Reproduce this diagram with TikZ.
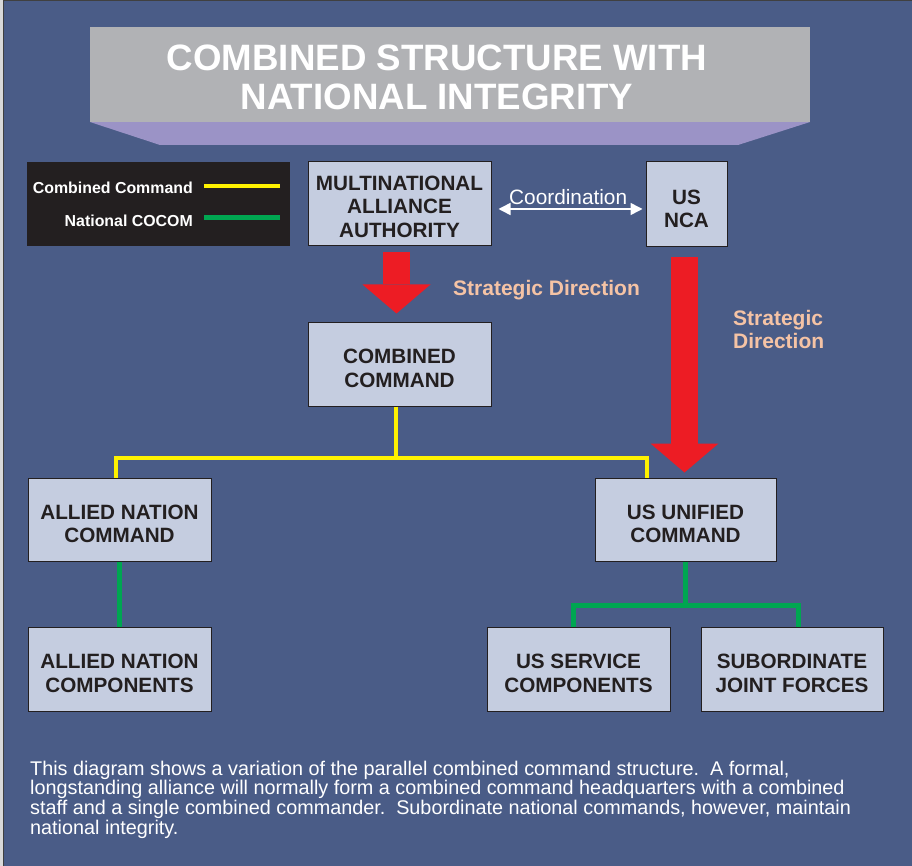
\documentclass[tikz,border=0pt]{standalone}
\usepackage{fontspec}
\setmainfont{Liberation Sans}
\usetikzlibrary{arrows.meta}

\definecolor{bgblue}{RGB}{74,92,135}
\definecolor{boxfill}{RGB}{197,205,224}
\definecolor{boxtext}{RGB}{35,31,32}
\definecolor{bannergray}{RGB}{177,178,181}
\definecolor{bannerlilac}{RGB}{155,147,198}
\definecolor{cmdyellow}{RGB}{255,242,0}
\definecolor{cocomgreen}{RGB}{0,166,81}
\definecolor{dirred}{RGB}{237,28,36}
\definecolor{peach}{RGB}{245,195,165}

\begin{document}
\begin{tikzpicture}[x=1pt, y=-1pt,
    unitbox/.style={draw=boxtext, line width=1pt, fill=boxfill, text=boxtext, inner sep=0pt, align=center,
        text height=46.3pt, font=\fontsize{20.7}{23.5}\selectfont\bfseries, minimum width=183pt, minimum height=84pt},
    combined/.style={draw=cmdyellow, line width=4pt},
    national/.style={draw=cocomgreen, line width=5pt},
    bigarrow/.style={draw=dirred, line width=27pt, -{Triangle[width=68pt, length=29pt, line width=0pt]}},
    direction/.style={text=peach, inner sep=0pt, align=left, font=\fontsize{21}{23}\selectfont\bfseries},
    legendtext/.style={text=white, inner sep=0pt, font=\fontsize{15.9}{18}\selectfont\bfseries}]
    \useasboundingbox (0,0) rectangle (912,866);

    %   Background and frame edges
    \fill[bgblue] (0,0) rectangle (912,866);
    \fill[gray!30] (0,0) rectangle (3,866);
    \draw[black!75, line width=1.5pt] (3.5,866) -- (3.5,0.75) -- (912,0.75);

    %   Title banner
    \fill[bannerlilac] (90,122) -- (810,122) -- (738,145) -- (160,145) -- cycle;
    \fill[bannergray] (90,27) rectangle (810,122);
    \node[text=white, inner sep=0pt, align=center, font=\fontsize{36.7}{39}\selectfont\bfseries] (title) at (437,77)
        {COMBINED STRUCTURE WITH\\NATIONAL INTEGRITY};

    %   Legend
    \fill[boxtext] (27,162) rectangle (290,246);
    \node[legendtext, anchor=base east] (lgcmd) at (193,194) {Combined Command};
    \node[legendtext, anchor=base east] (lgnat) at (193,227) {National COCOM};
    \draw[combined] (204,186) -- (280,186);
    \draw[national] (204,218) -- (280,218);

    %   Command boxes
    \node[unitbox, text height=67pt] (maa) at (399.5,204) {MULTINATIONAL\\ALLIANCE\\AUTHORITY};
    \node[unitbox, minimum width=81pt, minimum height=85pt] (nca) at (686.5,204.5) {US\\NCA};
    \node[unitbox] (cc) at (399.5,364) {COMBINED\\COMMAND};
    \node[unitbox, minimum height=83pt] (anc) at (119.5,519.5) {ALLIED NATION\\COMMAND};
    \node[unitbox, minimum width=181pt, minimum height=83pt] (usuc) at (685.5,519.5) {US UNIFIED\\COMMAND};
    \node[unitbox] (ancmp) at (119.5,669) {ALLIED NATION\\COMPONENTS};
    \node[unitbox] (ussc) at (578.5,669) {US SERVICE\\COMPONENTS};
    \node[unitbox, minimum width=182pt] (sjf) at (792,669) {SUBORDINATE\\JOINT FORCES};

    %   Coordination between alliance and NCA
    \draw[white, line width=1.5pt, {Triangle[width=12pt, length=12pt]}-{Triangle[width=12pt, length=12pt]},
        shorten <=7pt, shorten >=3pt] ([yshift=-5pt]maa.east) -- ([yshift=-4.5pt]nca.west);
    \node[text=white, inner sep=0pt, anchor=base west, font=\fontsize{20.8}{23}\selectfont] (coord) at (509,205) {Coordination};

    %   Strategic direction arrows
    \draw[bigarrow, shorten <=6pt, shorten >=8pt] ([xshift=-3pt]maa.south) -- ([xshift=-3pt]cc.north);
    \draw[bigarrow, shorten <=10pt, shorten >=5pt] ([xshift=-2pt]nca.south) -- ([xshift=-1pt]usuc.north);
    \node[direction, anchor=base west] (dir1) at (453,296) {Strategic Direction};
    \node[direction, anchor=north west] (dir2) at (733,310) {Strategic\\Direction};

    %   Combined command lines
    \draw[combined] ([xshift=-3.5pt]cc.south) -- ++(0,51) coordinate (ysplit);
    \draw[combined] ([xshift=-3.5pt]anc.north) |- (ysplit) -| ([xshift=-38.5pt]usuc.north);

    %   National COCOM lines
    \draw[national] (anc.south) -- (ancmp.north);
    \draw[national] (usuc.south) -- ++(0,44) coordinate (gsplit);
    \draw[national] ([xshift=-5.5pt]ussc.north) |- (gsplit) -| ([xshift=6pt]sjf.north);

    %   Caption
    \node[text=white, inner sep=0pt, anchor=north west, align=left, font=\fontsize{19.8}{19.7}\selectfont] (caption) at (30,760.5)
        {This diagram shows a variation of the parallel combined command structure.\ \ A formal,\\
        longstanding alliance will normally form a combined command headquarters with a combined\\
        staff and a single combined commander.\ \ Subordinate national commands, however, maintain\\
        national integrity.};
\end{tikzpicture}
\end{document}
